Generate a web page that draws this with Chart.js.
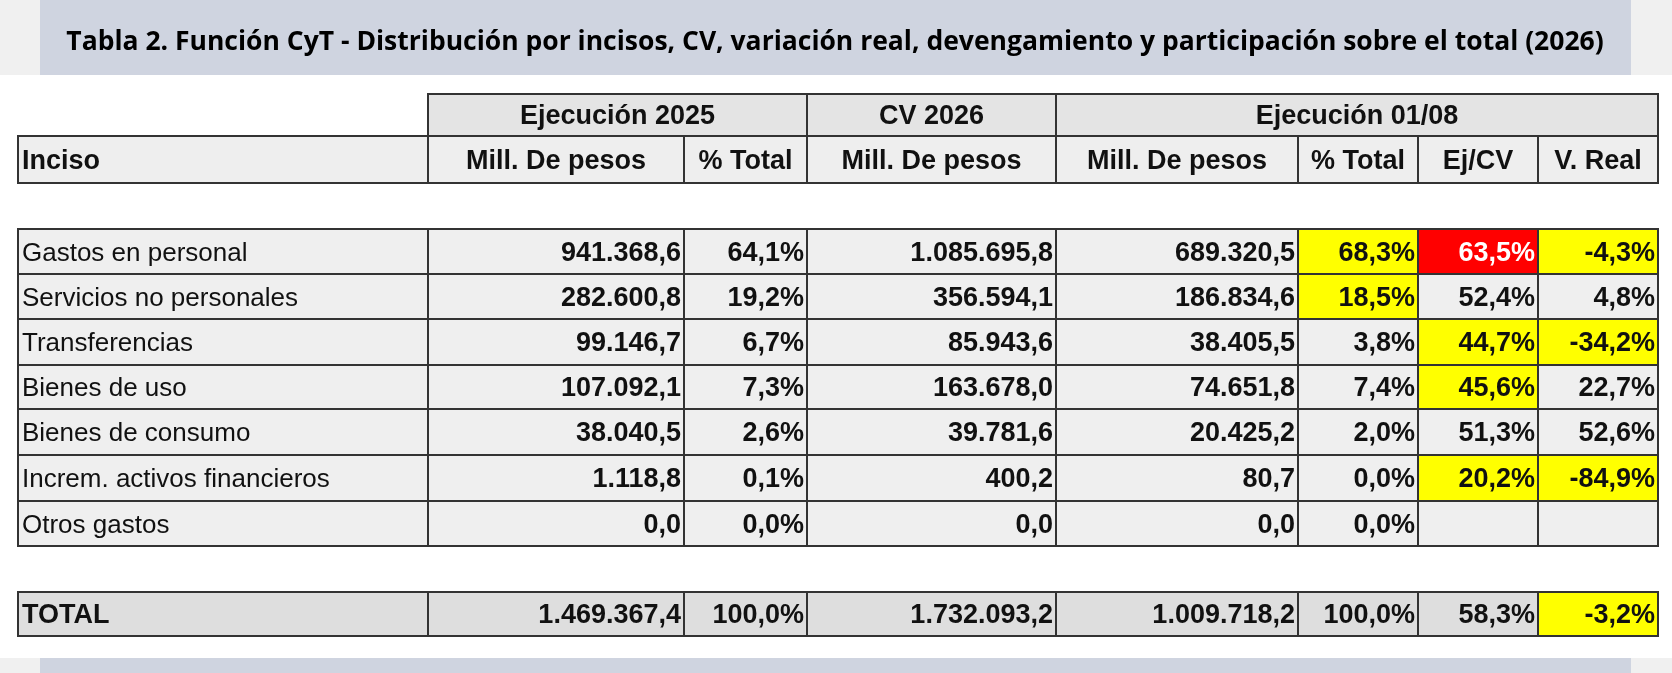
<!DOCTYPE html>
<html lang="es">
<head>
<meta charset="UTF-8">
<title>Tabla 2. Función CyT</title>
<script src="https://cdn.jsdelivr.net/npm/chart.js"></script>
<style>
  html, body { margin: 0; padding: 0; background: #fff; }
  #wrap { width: 1672px; height: 673px; }
</style>
</head>
<body>
<div id="wrap"><canvas id="tabla"></canvas></div>
<script>
// datos de la tabla
const titulo = 'Tabla 2. Función CyT - Distribución por incisos, CV, variación real, devengamiento y participación sobre el total (2026)';
const incisos = ['Gastos en personal', 'Servicios no personales', 'Transferencias', 'Bienes de uso',
  'Bienes de consumo', 'Increm. activos financieros', 'Otros gastos'];
const ejec2025 = [941368.6, 282600.8, 99146.7, 107092.1, 38040.5, 1118.8, 0.0];
const pct2025 = [64.1, 19.2, 6.7, 7.3, 2.6, 0.1, 0.0];
const cv2026 = [1085695.8, 356594.1, 85943.6, 163678.0, 39781.6, 400.2, 0.0];
const ejec0108 = [689320.5, 186834.6, 38405.5, 74651.8, 20425.2, 80.7, 0.0];
const pct0108 = [68.3, 18.5, 3.8, 7.4, 2.0, 0.0, 0.0];
const ejCv = [63.5, 52.4, 44.7, 45.6, 51.3, 20.2, null];
const vReal = [-4.3, 4.8, -34.2, 22.7, 52.6, -84.9, null];
const total = { ejec2025: 1469367.4, pct2025: 100.0, cv2026: 1732093.2, ejec0108: 1009718.2, pct0108: 100.0, ejCv: 58.3, vReal: -3.2 };

// resaltado de celdas: [fila, columna, color]
const resaltados = [
  [0, 5, '#ffff00'], [0, 6, '#ff0000'], [0, 7, '#ffff00'],
  [1, 5, '#ffff00'],
  [2, 6, '#ffff00'], [2, 7, '#ffff00'],
  [3, 6, '#ffff00'],
  [5, 6, '#ffff00'], [5, 7, '#ffff00'],
  ['T', 7, '#ffff00']
];

// layout
const colX = [18, 428, 684, 807, 1056, 1298, 1418, 1538, 1658];
const rowY = [229, 274, 319, 365, 409, 455, 501, 546];
const totalY = [592, 636];

function fmt(v, dec) {
  const neg = v < 0;
  let [ent, fr] = Math.abs(v).toFixed(dec).split('.');
  ent = ent.replace(/\B(?=(\d{3})+(?!\d))/g, '.');
  return (neg ? '-' : '') + ent + ',' + fr;
}
const pct = v => v == null ? '' : fmt(v, 1) + '%';

const tablePlugin = {
  id: 'tabla',
  beforeDraw(chart) {
    const c = chart.ctx, sx = chart.scales.x, sy = chart.scales.y;
    const X = v => sx.getPixelForValue(v), Y = v => sy.getPixelForValue(v);
    const rect = (x0, y0, x1, y1, fill, stroke) => {
      if (fill) { c.fillStyle = fill; c.fillRect(X(x0), Y(y0), X(x1) - X(x0), Y(y1) - Y(y0)); }
      if (stroke) { c.strokeStyle = '#333'; c.lineWidth = 2; c.strokeRect(X(x0), Y(y0), X(x1) - X(x0), Y(y1) - Y(y0)); }
    };
    const text = (s, x0, x1, y0, y1, align, font, color) => {
      c.font = font; c.fillStyle = color || '#111'; c.textBaseline = 'middle'; c.textAlign = align;
      const tx = align === 'left' ? X(x0) + 4 : align === 'right' ? X(x1) - 3 : (X(x0) + X(x1)) / 2;
      c.fillText(s, tx, (Y(y0) + Y(y1)) / 2 + 2);
    };
    // fondo y bandas
    rect(0, 0, 1672, 75, '#f0f0f0');
    rect(40, 0, 1631, 75, '#cfd4e0');
    rect(0, 658, 1672, 673, '#f0f0f0');
    rect(40, 658, 1631, 673, '#cfd4e0');
    c.font = 'bold 26.5px "Open Sans"'; c.fillStyle = '#000'; c.textAlign = 'center'; c.textBaseline = 'middle';
    c.fillText(titulo, X(835), Y(42));

    const B = 'bold 27px "Liberation Sans"', N = '26px "Liberation Sans"';
    // cabecera de grupos
    const grupos = [['Ejecución 2025', 1, 3], ['CV 2026', 3, 4], ['Ejecución 01/08', 4, 8]];
    grupos.forEach(([t, a, b]) => { rect(colX[a], 94, colX[b], 136, '#e4e4e4', true); text(t, colX[a], colX[b], 94, 136, 'center', B); });
    const subs = ['Inciso', 'Mill. De pesos', '% Total', 'Mill. De pesos', 'Mill. De pesos', '% Total', 'Ej/CV', 'V. Real'];
    subs.forEach((t, i) => { rect(colX[i], 136, colX[i + 1], 183, '#eeeeee', true); text(t, colX[i], colX[i + 1], 136, 183, i ? 'center' : 'left', B); });

    const colorDe = (r, col) => { const h = resaltados.find(e => e[0] === r && e[1] === col); return h ? h[2] : null; };
    const drawRow = (r, vals, y0, y1, bg, nameFont) => {
      vals.forEach((v, i) => {
        rect(colX[i], y0, colX[i + 1], y1, colorDe(r, i) || bg, true);
        const col = colorDe(r, i) === '#ff0000' ? '#fff' : '#111';
        text(v, colX[i], colX[i + 1], y0, y1, i ? 'right' : 'left', i ? B : nameFont, col);
      });
    };
    incisos.forEach((n, r) => {
      drawRow(r, [n, fmt(ejec2025[r], 1), pct(pct2025[r]), fmt(cv2026[r], 1), fmt(ejec0108[r], 1),
        pct(pct0108[r]), pct(ejCv[r]), pct(vReal[r])], rowY[r], rowY[r + 1], '#efefef', N);
    });
    drawRow('T', ['TOTAL', fmt(total.ejec2025, 1), pct(total.pct2025), fmt(total.cv2026, 1), fmt(total.ejec0108, 1),
      pct(total.pct0108), pct(total.ejCv), pct(total.vReal)], totalY[0], totalY[1], '#dedede', B);
  }
};

new Chart(document.getElementById('tabla'), {
  type: 'scatter',
  data: { datasets: [{ data: [] }] },
  options: {
    responsive: true, maintainAspectRatio: false, animation: false,
    layout: { padding: 0 },
    plugins: { legend: { display: false }, tooltip: { enabled: false } },
    scales: {
      x: { type: 'linear', min: 0, max: 1672, display: false },
      y: { type: 'linear', min: 0, max: 673, reverse: true, display: false }
    }
  },
  plugins: [tablePlugin]
});
</script>
</body>
</html>
